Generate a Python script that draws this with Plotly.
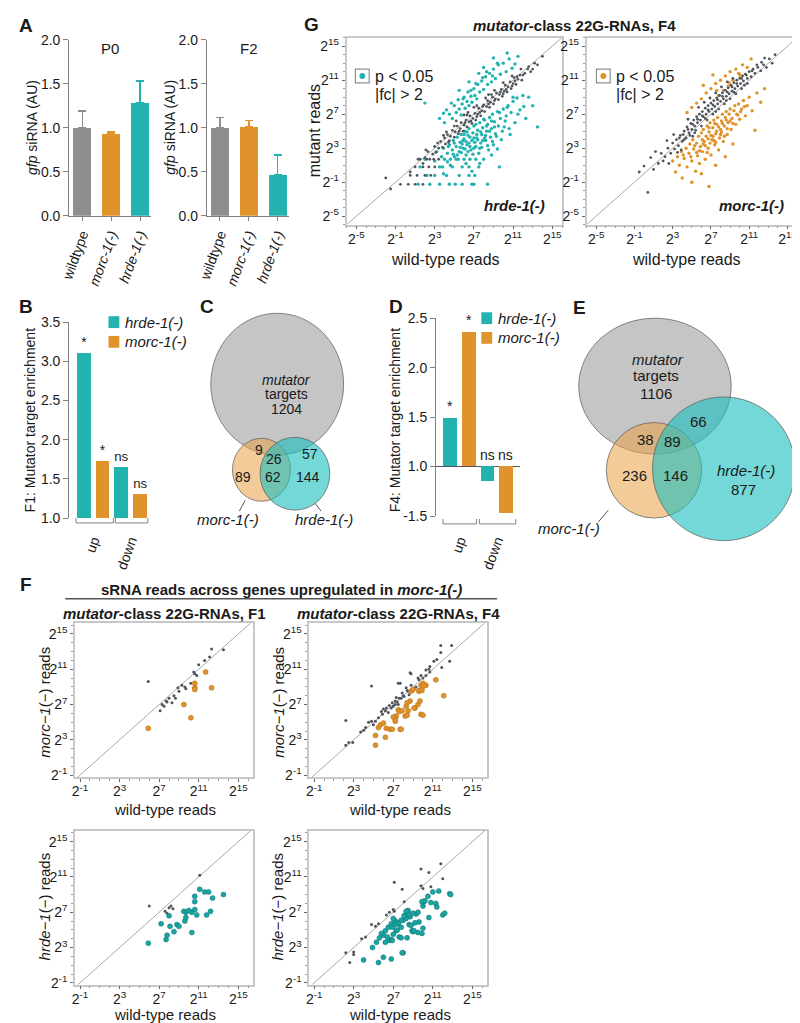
import plotly.graph_objects as go

W, H = 800, 1023
FONT = "Liberation Sans, Arial, sans-serif"
TEAL = "#22b2b0"
ORANGE = "#e0922b"
GREYBAR = "#8e8e8e"
DOT = "#50555c"
TXT = "#1a1a1a"

# ---------------- Panel A: gfp siRNA ----------------
a_labels = ["wildtype", "<i>morc-1(-)</i>", "<i>hrde-1(-)</i>"]
a_p0_mean = [1.00, 0.935, 1.29]
a_p0_err = [0.19, 0.015, 0.24]
a_f2_mean = [1.00, 1.01, 0.47]
a_f2_err = [0.12, 0.07, 0.22]
a_titles = ["P0", "F2"]

# ---------------- Panel B: F1 mutator target enrichment ----------------
b_groups = ["up", "down"]
b_hrde = [3.11, 1.65]
b_morc = [1.72, 1.30]
b_hrde_sig = ["*", "ns"]
b_morc_sig = ["*", "ns"]

# ---------------- Panel D: F4 mutator target enrichment ----------------
d_groups = ["up", "down"]
d_hrde = [1.49, -1.15]
d_morc = [2.36, -1.47]
d_hrde_sig = ["*", "ns"]
d_morc_sig = ["*", "ns"]
d_ticks = [2.5, 2.0, 1.5, 1.0, -1.5]

# ---------------- Panels C / E: Venn counts ----------------
c_mutator_total = 1204
c_region_values = [9, 26, 57, 89, 62, 144]
e_mutator_total = 1106
e_region_values = [66, 38, 89, 236, 146, 877]

# ---------------- Panel G: log2 reads (wild-type, mutant) ----------------
g_hrde_ns = [(0.5,0.2),(1.0,0.8),(1.3,1.7),(1.8,1.2),(2.0,1.9),(2.3,2.6),(2.5,1.7),(2.8,2.3),(3.0,3.2),(3.1,2.5),
    (3.4,3.0),(3.6,3.8),(3.8,3.1),(4.0,4.2),(4.1,3.5),(4.3,4.6),(4.5,3.9),(4.6,4.4),(4.8,5.1),(5.0,4.3),(5.1,4.9),
    (5.3,5.6),(5.4,4.7),(5.6,5.3),(5.7,6.0),(5.9,5.0),(6.0,5.7),(6.2,6.3),(6.3,5.5),(6.5,6.1),(6.6,6.8),(6.8,5.9),
    (6.9,6.5),(7.1,7.1),(7.2,6.3),(7.4,7.0),(7.5,7.7),(7.7,6.8),(7.8,7.4),(8.0,8.1),(8.1,7.3),(8.3,7.9),(8.4,8.6),
    (8.6,7.8),(8.7,8.4),(8.9,9.0),(9.0,8.2),(9.2,8.8),(9.3,9.5),(9.5,8.7),(9.6,9.3),(9.8,9.9),(9.9,9.1),(10.1,9.7),
    (10.2,10.4),(10.4,9.6),(10.5,10.2),(10.7,10.8),(10.8,10.0),(11.0,10.6),(11.1,11.3),(11.3,10.5),(11.5,11.1),
    (11.7,11.6),(11.9,11.0),(12.2,11.8),(12.5,12.3),(12.8,12.0),(13.2,13.0),(13.5,12.8),(14.0,13.8),
    (-0.5,-1.25),(0.3,-1.25),(1.0,-1.25),(1.8,-1.25),(0.5,-0.2),(1.2,-0.2),(2.0,-0.2),(2.6,-0.2),(1.8,0.8),
    (2.4,0.8),(3.0,0.8),(1.5,1.7),(2.2,1.7),(2.9,1.7),(3.4,1.7),(-1.5,-1.8),(-2.0,-0.5),(4.2,4.9),(5.2,6.2),
    (6.4,7.2),(7.3,8.0),(8.2,8.9),(9.1,9.8),(10.0,10.7),(10.9,11.5),(11.8,12.3),(6.0,6.9),(7.0,7.8),(8.5,9.3),
    (2.1,2.8),(3.3,3.6),(3.9,4.5),(4.4,3.7),(5.5,5.0),(6.1,6.0),(6.7,6.2),(7.3,6.7),(7.9,7.9),(8.5,8.2),(9.1,8.6),
    (9.7,9.6),(10.3,9.9),(10.9,10.3),(11.4,11.4),(12.0,11.6),(12.6,12.6),(13.0,12.3),(5.0,5.6),(6.3,6.9),
    (7.6,7.2),(8.8,9.3),(10.0,9.4),(11.2,10.9)]
g_hrde_sig = [(3.5,6.5),(4.0,6.0),(4.2,7.5),(4.5,7.0),(4.8,6.5),(5.0,8.0),(5.2,7.2),(5.4,8.7),(5.5,7.6),(5.7,6.9),
    (5.8,8.2),(6.0,9.0),(6.1,7.7),(6.3,8.5),(6.4,9.6),(6.5,8.0),(6.7,9.1),(6.8,8.4),(7.0,10.0),(7.1,9.2),(7.3,8.8),
    (7.4,10.5),(7.6,9.6),(7.8,10.9),(8.0,9.9),(8.2,11.4),(8.4,10.5),(8.6,11.8),(8.8,10.8),(9.0,12.3),(9.2,11.2),
    (9.5,12.8),(9.7,11.7),(10.0,13.0),(10.3,12.0),(10.6,13.5),(10.9,12.4),(11.2,12.9),(11.5,13.8),(10.4,14.2),
    (9.0,13.6),(8.0,12.5),(7.5,11.8),(6.5,10.8),(5.5,9.8),(2.0,8.3),
    (3.0,1.5),(3.2,2.6),(3.5,0.8),(3.7,2.0),(3.9,3.0),(4.0,1.7),(4.2,-0.2),(4.3,2.4),(4.5,3.4),(4.6,1.0),(4.8,2.8),
    (4.9,3.9),(5.0,2.0),(5.1,-1.25),(5.2,3.2),(5.3,4.3),(5.4,1.7),(5.5,2.6),(5.6,3.7),(5.7,4.6),(5.8,0.8),(5.9,3.0),
    (6.0,4.1),(6.1,5.0),(6.2,2.2),(6.3,3.4),(6.4,4.5),(6.5,5.3),(6.6,1.7),(6.7,2.8),(6.8,3.9),(6.9,4.8),(7.0,5.6),
    (7.1,-0.2),(7.2,3.2),(7.3,4.2),(7.4,5.1),(7.5,2.4),(7.6,6.0),(7.7,3.6),(7.8,4.6),(7.9,5.4),(8.0,1.7),(8.1,6.3),
    (8.2,3.9),(8.3,5.0),(8.4,5.8),(8.5,2.8),(8.6,6.6),(8.7,4.3),(8.8,5.3),(8.9,7.0),(9.0,3.4),(9.1,6.1),(9.2,4.7),
    (9.4,7.3),(9.5,5.6),(9.6,0.8),(9.7,6.5),(9.8,4.0),(10.0,7.6),(10.1,5.5),(10.3,6.8),(10.5,8.0),(10.7,4.6),
    (10.8,7.2),(11.0,8.5),(11.2,6.0),(11.4,8.9),(11.7,7.5),(12.0,9.2),(12.3,6.5),(12.6,9.0),(13.0,8.0),(13.5,5.5),
    (6.0,1.7),(6.5,0.8),(7.0,-1.25),(4.5,-1.25),(3.5,-1.25),(2.5,-1.25),(3.0,-0.2),(5.5,-0.2),(6.5,-0.2),(3.8,0.8),
    (4.8,0.8),(7.5,0.8),(4.6,1.7),(5.2,1.7),(7.2,1.7),(6.8,-1.25),(5.8,-1.25),(8.4,-1.25),(2.0,1.7),(1.5,0.8),
    (2.2,-0.2),(1.3,-1.25),(6.2,3.8),(6.6,4.3),(7.0,3.0),(7.4,4.0),(5.8,3.5),(6.4,2.6),(7.8,3.1),(8.2,4.5),
    (5.0,3.6),(4.4,3.2),(6.0,4.6),(7.2,5.8),(8.0,6.4),(8.8,6.2),(9.6,7.2),(10.4,7.8),(11.0,9.0),
    (5.3,2.2),(5.6,3.1),(5.9,3.9),(6.1,2.9),(6.3,4.9),(6.6,3.2),(6.9,2.3),(7.1,3.7),(7.3,4.6),(7.6,3.0),(7.9,3.9),
    (8.1,4.2),(8.4,3.3),(8.6,5.0),(8.9,3.8),(9.3,4.4),(9.9,5.0),(10.2,6.2),(5.7,2.5),(6.2,1.2),(6.8,0.3),(7.6,1.2),
    (8.8,2.2),(9.4,2.9),(4.9,2.3),(4.3,1.4),(3.9,0.0),(6.5,3.6),(7.0,4.2),(7.7,4.9),(8.3,5.6),(9.1,5.5),(10.6,5.3),
    (11.5,7.0),(12.1,7.9),(6.7,9.8),(7.2,10.6),(7.9,11.3),(8.3,12.0),(8.9,11.5),(9.4,13.0),(5.9,8.8),(4.7,8.3),
    (3.9,7.1)]
g_morc_ns = [(0.4,-2.2),(0.7,1.9),(1.5,1.2),(1.8,2.4),(2.2,2.0),(2.5,3.0),(2.8,2.4),(3.0,3.6),(3.2,2.9),(3.4,4.0),
    (3.6,3.3),(3.8,4.5),(4.0,3.8),(4.2,5.0),(4.4,4.2),(4.5,5.5),(4.7,4.8),(4.9,5.9),(5.0,5.2),(5.2,6.3),(5.3,5.6),
    (5.5,6.7),(5.6,6.0),(5.8,7.0),(5.9,6.3),(6.1,7.3),(6.2,6.7),(6.4,7.7),(6.5,7.0),(6.7,8.0),(6.8,7.3),(7.0,8.3),
    (7.1,7.6),(7.3,8.6),(7.4,7.9),(7.6,8.9),(7.7,8.2),(7.9,9.2),(8.0,8.5),(8.2,9.5),(8.3,8.8),(8.5,9.8),(8.6,9.1),
    (8.8,10.1),(8.9,9.4),(9.1,10.4),(9.2,9.7),(9.4,10.7),(9.5,10.0),(9.7,11.0),(9.8,10.3),(10.0,11.2),(10.1,10.6),
    (10.3,11.5),(10.4,10.9),(10.6,11.7),(10.8,11.2),(11.0,12.0),(11.2,11.4),(11.4,12.3),(11.6,11.8),(11.9,12.5),
    (12.2,12.1),(12.5,12.8),(12.8,12.5),(13.1,13.5),(13.4,13.0),(13.7,14.0),(12.6,13.6),(6.0,5.6),(6.6,6.3),
    (7.2,7.0),(7.8,7.6),(8.4,8.2),(9.0,8.8),(9.6,9.4),(10.2,10.0),(10.8,10.6),(5.4,5.1),(4.8,4.5),(4.2,4.0),
    (3.5,2.5),(2.0,1.5),(1.0,0.5),(2.6,1.2),(3.9,2.8),(5.1,4.4),(7.5,9.5),(8.1,10.2),(8.7,10.8),(9.3,11.2),
    (6.9,8.9),(6.3,8.4),(5.7,7.8),(4.6,6.4),(3.1,4.6),(2.4,3.9),(1.2,2.6),(0.0,0.9),(-0.5,0.2),
    (4.1,4.6),(4.6,5.2),(5.1,5.8),(5.6,6.4),(6.1,6.8),(6.7,7.5),(7.2,8.1),(7.7,8.7),(8.2,9.1),(8.7,9.6),(9.2,10.2),
    (9.7,10.6),(10.2,11.2),(10.7,11.6),(11.3,12.1),(11.8,12.8),(12.3,13.1),(6.4,6.5),(7.5,7.3),(8.6,8.6),
    (9.4,9.6),(10.5,10.4),(5.3,4.8),(3.7,4.2)]
g_morc_sig = [(3.0,1.5),(3.3,0.2),(3.5,2.0),(3.7,1.0),(3.9,2.6),(4.0,-0.5),(4.2,1.8),(4.4,3.0),(4.5,0.8),(4.7,2.4),
    (4.8,3.5),(5.0,1.5),(5.1,4.0),(5.2,2.9),(5.4,0.3),(5.5,3.6),(5.6,2.1),(5.7,4.4),(5.8,1.2),(5.9,3.2),(6.0,4.8),
    (6.1,2.6),(6.2,5.2),(6.3,3.8),(6.4,1.7),(6.5,4.4),(6.6,5.6),(6.7,3.0),(6.8,4.9),(6.9,6.0),(7.0,2.2),(7.1,4.0),
    (7.2,5.4),(7.3,6.3),(7.4,3.4),(7.5,4.7),(7.6,5.8),(7.7,6.6),(7.8,2.8),(7.9,4.2),(8.0,5.2),(8.1,6.2),(8.2,7.0),
    (8.3,3.8),(8.4,5.6),(8.5,6.6),(8.6,7.3),(8.7,4.6),(8.8,6.0),(8.9,7.0),(9.0,7.6),(9.1,5.2),(9.2,6.5),(9.4,7.4),
    (9.5,8.0),(9.6,5.8),(9.7,7.0),(9.9,8.2),(10.0,6.4),(10.2,7.6),(10.4,8.6),(10.6,6.8),(10.8,8.0),(11.0,9.0),
    (11.3,7.4),(11.6,5.1),(11.8,9.5),(12.2,8.4),(12.6,10.0),(6.0,0.0),(5.0,-1.0),(7.5,1.0),(8.5,2.0),(9.3,3.5),
    (6.8,-1.5),(4.5,7.2),(5.0,7.8),(5.5,8.3),(6.0,8.8),(6.5,9.5),(7.0,10.0),(7.5,10.6),(7.8,9.2),(8.0,11.0),
    (8.3,9.8),(8.5,11.5),(8.8,10.3),(9.0,12.0),(9.3,11.0),(9.6,12.3),(10.0,11.6),(10.3,12.8),(10.8,12.5),
    (11.2,13.5),(6.2,10.4),(7.2,11.6),(6.4,3.3),(7.0,4.5),(7.6,5.0),(8.2,5.9),(6.7,4.1),(7.3,3.9),(8.0,4.6),
    (5.3,3.3),(5.8,2.7),(6.2,3.5),(6.6,2.5),(6.9,3.6),(7.2,4.4),(7.5,3.7),(7.8,5.5),(8.1,4.9),(8.4,4.4),(8.7,5.3),
    (9.0,6.2),(9.3,5.9),(9.8,6.9),(10.1,7.3),(10.5,7.9),(6.1,4.0),(6.8,5.4),(7.4,5.9),(8.6,6.3),(5.5,2.5),
    (4.9,2.0),(4.1,2.2),(8.9,10.7),(9.9,11.8),(7.6,9.8)]

# ---------------- Panel F: log2 reads (wild-type, mutant) ----------------
f1_morc_ns = [(5.9,9.6),(7.1,6.3),(7.5,6.8),(7.7,7.4),(8.0,7.7),(8.3,7.2),(8.65,7.7),(8.9,8.9),(9.0,8.5),(9.6,9.0),
    (9.7,8.8),(10.2,9.4),(10.5,10.7),(10.6,10.5),(10.8,10.3),(11.0,11.5),(11.6,12.0),(12.1,12.4),(12.3,13.3),
    (13.5,13.2),(7.3,7.0),(7.8,7.3),(8.5,8.0),(9.3,9.2)]
f1_morc_sig = [(5.9,4.3),(9.5,7.0),(10.2,5.5),(10.6,9.4),(10.6,8.9),(10.6,8.7),(11.7,10.7),(12.3,8.9)]
f4_morc_ns = [(2.2,5.2),(2.2,2.4),(2.5,2.7),(2.9,2.7),(3.7,3.9),(4.2,4.4),(4.5,5.0),(4.8,5.1),(5.2,5.1),(4.8,9.1),
    (5.5,5.5),(5.9,5.9),(6.2,6.3),(6.5,6.1),(6.8,6.6),(7.5,9.4),(7.2,7.4),(7.5,7.0),(7.8,7.7),(8.1,7.9),(8.5,8.5),
    (8.8,10.5),(9.5,10.0),(9.8,10.3),(10.3,10.9),(11.8,13.7),(12.9,13.7),(11.8,12.9),(11.1,11.9),(11.4,12.1),
    (12.7,11.9),(11.9,11.2),(10.7,11.3),(10.6,11.0),(10.7,10.7),(10.3,10.3),(10.0,10.0),(9.6,9.8),(8.7,10.6),
    (7.7,9.4),(8.8,9.2),(9.1,8.8),(8.4,8.6),(7.9,8.3),(8.6,8.1),(7.6,7.7),(7.2,7.0),(6.9,7.2),(7.0,6.8),(6.6,6.9),
    (7.4,7.3),(8.0,8.0),(6.3,6.6),(5.8,6.2),(5.0,4.7),(4.0,4.1),(7.3,7.8),(8.3,8.9),(9.3,9.0),(6.0,6.5)]
f4_morc_sig = [(5.2,2.4),(5.2,3.5),(5.5,4.4),(5.7,4.7),(6.0,4.9),(6.2,3.3),(6.3,4.3),(6.7,4.2),(6.9,4.2),(7.2,5.1),
    (7.3,5.7),(7.5,6.4),(7.6,6.2),(7.9,6.3),(7.7,4.2),(8.2,5.7),(8.3,6.8),(8.5,6.3),(8.7,7.4),(8.8,8.5),(9.0,8.7),
    (9.2,6.6),(9.5,7.0),(9.6,8.5),(9.8,9.2),(10.0,9.4),(10.3,9.2),(9.8,5.9),(11.3,9.8),(12.1,8.0),(10.0,5.8),
    (10.1,9.1),(9.6,8.6),(9.7,7.4),(9.1,6.6),(8.4,7.2),(8.4,5.8),(7.8,4.2),(7.2,5.3),(7.0,5.6),(9.9,8.6)]
f1_hrde_ns = [(6.0,7.7),(7.6,7.1),(7.8,6.9),(8.0,7.5),(8.2,7.7),(8.4,7.4),(11.1,11.2)]
f1_hrde_sig = [(5.9,3.5),(7.2,5.7),(7.7,3.9),(7.8,4.4),(8.1,5.4),(8.0,6.6),(8.5,4.8),(8.8,5.6),(9.0,5.4),(9.6,6.0),
    (9.7,6.4),(9.7,7.0),(10.3,7.0),(10.3,4.7),(10.6,7.3),(10.6,8.2),(10.6,8.8),(10.8,6.7),(11.1,9.6),(11.6,9.3),
    (12.0,9.3),(11.8,6.7),(12.2,7.1),(12.4,8.6),(13.5,9.0),(9.5,7.1),(10.0,7.2)]
f4_hrde_ns = [(2.2,2.4),(2.6,1.3),(3.0,2.5),(3.0,2.2),(3.8,4.0),(4.2,4.2),(4.8,5.6),(5.2,5.4),(5.5,5.7),(6.3,6.7),
    (6.6,7.0),(7.0,7.3),(7.1,10.4),(7.9,9.6),(8.1,8.2),(7.1,7.1),(9.8,11.9),(10.6,11.5),(9.8,10.0),(11.8,12.5),
    (12.0,10.8),(10.0,9.7),(10.8,9.9)]
f4_hrde_sig = [(4.0,1.6),(5.5,1.3),(6.0,1.9),(6.8,1.7),(8.0,2.4),(4.9,3.0),(5.3,3.6),(5.6,4.1),(6.0,4.4),(6.2,3.6),
    (6.6,3.8),(6.8,3.9),(6.2,4.9),(6.5,5.3),(6.8,5.7),(7.2,6.0),(7.3,4.9),(7.5,5.7),(7.6,4.2),(7.8,5.3),(8.0,6.1),
    (8.2,6.6),(8.3,6.3),(8.5,7.2),(8.6,5.6),(8.7,6.5),(8.9,4.9),(9.0,4.8),(9.3,6.8),(9.6,5.9),(10.0,5.2),(10.1,8.2),
    (10.5,8.8),(6.9,5.3),(7.2,5.6),(7.5,5.8),(7.8,6.1),(8.1,6.6),(8.3,7.1),(8.6,6.7),(9.0,6.9),(9.5,7.0),(9.2,5.8),
    (8.8,5.5),(9.5,4.7),(9.9,4.6),(9.1,4.9),(7.8,4.1),(8.4,4.1),(6.9,3.8),(7.9,2.4),(10.0,7.7),(9.9,8.2),(10.2,8.3),
    (10.8,8.1),(11.3,8.0),(11.4,7.6),(10.6,6.4),(11.0,9.3),(11.6,9.4),(12.7,9.1),(12.8,9.0),(12.0,6.7),(12.2,6.9),
    (5.8,4.6),(6.4,4.2),(7.0,4.5),(7.4,5.0),(7.0,6.3)]

g_ticks = [-5, -1, 3, 7, 11, 15]
f_ticks = [-1, 3, 7, 11, 15]
g_range_left = [-6, 16]
g_range_right = [-6, 15.7]
g_range_y = [-6, 16]
f_range_x = [-1.5, 16.5]
f_range_y = [-1.2, 16.2]


def dom_x(x0, x1):
    return [x0 / W, x1 / W]


def dom_y(y0, y1):
    return [1 - y1 / H, 1 - y0 / H]


def px(x):
    return x / W


def py(y):
    return 1 - y / H


fig = go.Figure()
annotations = []
shapes = []


def ann(text, x, y, size=13, xanchor="center", yanchor="middle", angle=0, color=TXT):
    annotations.append(dict(text=text, x=px(x), y=py(y), xref="paper", yref="paper", showarrow=False,
                            xanchor=xanchor, yanchor=yanchor, textangle=angle,
                            font=dict(size=size, color=color, family=FONT)))


def base_axis(**kw):
    d = dict(showgrid=False, zeroline=False, showline=True, linecolor="#808080", linewidth=1,
             ticks="outside", ticklen=5, tickcolor="#808080",
             tickfont=dict(size=14, color=TXT, family=FONT))
    d.update(kw)
    return d


def sup_text(vals):
    return ["2<sup>%d</sup>" % v for v in vals]


def scatter_axis(dom, rng, ticks, anchor, is_x):
    d = dict(domain=dom, range=rng, anchor=anchor, showgrid=False, zeroline=False,
             showline=True, linecolor="#c8c8c8", linewidth=1.5, mirror=True,
             ticks="outside", ticklen=3, tickcolor="#666", tickvals=ticks, ticktext=sup_text(ticks),
             tickfont=dict(size=14, color=TXT, family=FONT),
             minor=dict(ticks="outside", ticklen=2, tickcolor="#999", tickmode="linear", tick0=0, dtick=1))
    if is_x:
        d["ticklabelstandoff"] = -2
    return d


layout = {}

# ---------- Panel A ----------
a_colors = [GREYBAR, ORANGE, TEAL]
for k, (means, errs, xd) in enumerate([(a_p0_mean, a_p0_err, (52, 135)), (a_f2_mean, a_f2_err, (192, 275))]):
    n = "" if k == 0 else "2"
    for i in range(3):
        fig.add_trace(go.Bar(x=[i], y=[means[i]], width=0.62, marker=dict(color=a_colors[i], line=dict(width=0)),
                             error_y=dict(type="data", symmetric=False, array=[errs[i]], arrayminus=[0],
                                          color=a_colors[i], thickness=1.3, width=4),
                             xaxis="x" + n, yaxis="y" + n, showlegend=False))
    layout["xaxis" + n] = base_axis(domain=dom_x(*xd), anchor="y" + n, range=[-0.45, 2.37], tickvals=[0, 1, 2],
                                     ticktext=a_labels, tickangle=-70, ticklen=4)
    layout["yaxis" + n] = base_axis(domain=dom_y(24, 203), anchor="x" + n, range=[0, 2.0],
                                     tickvals=[0, 0.5, 1, 1.5, 2], tickformat=".1f")
ann(a_titles[0], 94, 33, size=15)
ann(a_titles[1], 235, 33, size=15)
ann("<i>gfp</i> siRNA (AU)", 14, 113, size=14, angle=-90)
ann("<i>gfp</i> siRNA (AU)", 155, 113, size=14, angle=-90)

# ---------- Panel B ----------
b_x_h = [0, 2]
b_x_m = [1, 3]
fig.add_trace(go.Bar(x=b_x_h, y=b_hrde, width=0.74, marker=dict(color=TEAL, line=dict(width=0)),
                     text=b_hrde_sig, textposition="outside", textfont=dict(size=14, color=TXT, family=FONT),
                     cliponaxis=False, xaxis="x3", yaxis="y3", showlegend=False))
fig.add_trace(go.Bar(x=b_x_m, y=b_morc, width=0.74, marker=dict(color=ORANGE, line=dict(width=0)),
                     text=b_morc_sig, textposition="outside", textfont=dict(size=14, color=TXT, family=FONT),
                     cliponaxis=False, xaxis="x3", yaxis="y3", showlegend=False))
layout["xaxis3"] = dict(domain=dom_x(52, 135), anchor="y3", range=[-0.79, 3.58], showline=False, showgrid=False,
                        zeroline=False, tickvals=[0.5, 2.5], ticktext=b_groups, tickangle=-70, ticks="outside",
                        ticklen=8, tickcolor="rgba(0,0,0,0)", tickfont=dict(size=14, color=TXT, family=FONT))
layout["yaxis3"] = base_axis(domain=dom_y(311, 510), anchor="x3", range=[1, 3.5], dtick=0.5, tickformat=".1f")
ann("F1: Mutator target enrichment", 12, 410, size=14, angle=-90)


# ---------- Panel D ----------
def d_tr(v):
    return v - 1 if v >= 1 else v + 1


fig.add_trace(go.Bar(x=[0, 2], y=[d_tr(v) for v in d_hrde], width=0.74, marker=dict(color=TEAL, line=dict(width=0)),
                     xaxis="x4", yaxis="y4", showlegend=False))
fig.add_trace(go.Bar(x=[1, 3], y=[d_tr(v) for v in d_morc], width=0.74, marker=dict(color=ORANGE, line=dict(width=0)),
                     xaxis="x4", yaxis="y4", showlegend=False))
layout["xaxis4"] = dict(domain=dom_x(425, 510), anchor="y4", range=[-0.77, 3.74], showline=False, showgrid=False,
                        zeroline=False, tickvals=[0.5, 2.5], ticktext=d_groups, tickangle=-70, ticks="outside",
                        ticklen=10, tickcolor="rgba(0,0,0,0)", tickfont=dict(size=14, color=TXT, family=FONT))
layout["yaxis4"] = base_axis(domain=dom_y(307, 508), anchor="x4", range=[-0.5, 1.5],
                             tickvals=[d_tr(v) for v in d_ticks], ticktext=["%.1f" % v for v in d_ticks],
                             zeroline=True, zerolinecolor="#555", zerolinewidth=1)
for xs, vals, sig in [([0, 2], d_hrde, d_hrde_sig), ([1, 3], d_morc, d_morc_sig)]:
    for xv, v, s in zip(xs, vals, sig):
        yv = d_tr(v) if v > 0 else 0
        annotations.append(dict(text=s, x=xv, y=yv, xref="x4", yref="y4", showarrow=False, yanchor="bottom",
                                yshift=2, font=dict(size=14, color=TXT, family=FONT)))
ann("F4: Mutator target enrichment", 383, 410, size=14, angle=-90)

# legends B and D
for (x0, y0, lab_y) in [(92, 305, 311), (471, 301, 307)]:
    shapes.append(dict(type="rect", xref="paper", yref="paper", x0=px(x0), x1=px(x0 + 11), y0=py(y0), y1=py(y0 + 12),
                       fillcolor=TEAL, line=dict(width=0)))
    shapes.append(dict(type="rect", xref="paper", yref="paper", x0=px(x0), x1=px(x0 + 11), y0=py(y0 + 20),
                       y1=py(y0 + 32), fillcolor=ORANGE, line=dict(width=0)))
    ann("<i>hrde-1(-)</i>", x0 + 15, lab_y, size=15, xanchor="left")
    ann("<i>morc-1(-)</i>", x0 + 15, lab_y + 20, size=15, xanchor="left")

for (x0, x1, yt) in [(59, 97, 510), (99, 132, 510), (432, 466, 511), (469, 506, 511)]:
    shapes.append(dict(type="path", xref="paper", yref="paper",
                       path="M %f,%f L %f,%f L %f,%f L %f,%f" % (px(x0), py(yt), px(x0), py(yt + 5), px(x1), py(yt + 5),
                                                             px(x1), py(yt)),
                       line=dict(color="#808080", width=1)))

# ---------- Panels C and E: Venn ----------
VG = "rgba(150,150,150,0.55)"
VO = "rgba(232,160,70,0.55)"
VT = "rgba(25,190,190,0.6)"
VL = "rgba(90,90,90,0.7)"
for (x0, x1, y0, y1, col) in [(196, 331, 302, 446, VG), (218, 277, 429, 493, VO), (246, 317, 428, 502, VT),
                              (570, 725, 307, 445, VG), (598, 695, 413, 510, VO), (645, 790, 387, 533, VT)]:
    shapes.append(dict(type="circle", xref="paper", yref="paper", x0=px(x0), x1=px(x1), y0=py(y1), y1=py(y0),
                       fillcolor=col, line=dict(color=VL, width=1)))
ann("<i>mutator</i>", 273, 370, size=14)
ann("targets", 273, 384, size=14)
ann(str(c_mutator_total), 273, 399, size=14)
for v, (x, y) in zip(c_region_values, [(245, 441), (260, 450), (297, 445), (229, 468), (259, 468), (295, 468)]):
    ann(str(v), x, y, size=14)
ann("<i>morc-1(-)</i>", 213, 511, size=15)
ann("<i>hrde-1(-)</i>", 311, 512, size=15)
for (a, b, c, d) in [(231, 492, 225, 503), (302, 495, 308, 503), (600, 502, 590, 514)]:
    shapes.append(dict(type="line", xref="paper", yref="paper", x0=px(a), y0=py(b), x1=px(c), y1=py(d),
                       line=dict(color="#555", width=1)))

ann("<i>mutator</i>", 651, 349, size=15)
ann("targets", 649, 365, size=15)
ann(str(e_mutator_total), 649, 383, size=15)
for v, (x, y) in zip(e_region_values, [(692, 412), (638, 430), (665, 432), (627, 467), (668, 467), (737, 481)]):
    ann(str(v), x, y, size=15)
ann("<i>hrde-1(-)</i>", 740, 462, size=15)
ann("<i>morc-1(-)</i>", 560, 521, size=15)


# ---------- Panel G ----------
def add_pts(pts, xa, ya, color, size, line_col=None):
    fig.add_trace(go.Scatter(x=[p[0] for p in pts], y=[p[1] for p in pts], mode="markers",
                             marker=dict(color=color, size=size,
                                         line=dict(width=0.5 if line_col else 0, color=line_col or color)),
                             xaxis=xa, yaxis=ya, showlegend=False, cliponaxis=True))


def add_diag(rx, xa, ya):
    fig.add_trace(go.Scatter(x=rx, y=rx, mode="lines", line=dict(color="#a8a8a8", width=1),
                             xaxis=xa, yaxis=ya, showlegend=False, hoverinfo="skip"))


for n, sig, ns, col, xd, xr in [(5, g_hrde_sig, g_hrde_ns, TEAL, (334, 553), g_range_left),
                                (6, g_morc_sig, g_morc_ns, ORANGE, (578, 789), g_range_right)]:
    add_diag(g_range_y, "x%d" % n, "y%d" % n)
    add_pts(sig, "x%d" % n, "y%d" % n, col, 3.4)
    add_pts(ns, "x%d" % n, "y%d" % n, DOT, 2.8)
    layout["xaxis%d" % n] = scatter_axis(dom_x(*xd), xr, g_ticks, "y%d" % n, True)
    layout["yaxis%d" % n] = scatter_axis(dom_y(22, 212), g_range_y, g_ticks, "x%d" % n, False)

ann("<b><i>mutator</i>-class 22G-RNAs, F4</b>", 566, 10, size=15)
ann("mutant reads", 301, 117, size=16, angle=-90)
ann("wild-type reads", 435, 247, size=16)
ann("wild-type reads", 680, 247, size=16)
ann("<b><i>hrde-1(-)</i></b>", 538, 193, size=15, xanchor="right")
ann("<b><i>morc-1(-)</i></b>", 781, 193, size=15, xanchor="right")
for (bx, col) in [(343, TEAL), (588, ORANGE)]:
    shapes.append(dict(type="rect", xref="paper", yref="paper", x0=px(bx), x1=px(bx + 14), y0=py(68), y1=py(54),
                       line=dict(color="#909090", width=1.2), fillcolor="white"))
    shapes.append(dict(type="circle", xref="paper", yref="paper", x0=px(bx + 4), x1=px(bx + 10), y0=py(64), y1=py(58),
                       line=dict(width=0), fillcolor=col))
    ann("p < 0.05", bx + 18, 61, size=16, xanchor="left")
    ann("|fc| > 2", bx + 18, 80, size=16, xanchor="left")

# ---------- Panel F ----------
f_panels = [
    (7, f1_morc_sig, f1_morc_ns, ORANGE, "#b06d15", (58, 239), (617, 773)),
    (8, f4_morc_sig, f4_morc_ns, ORANGE, "#b06d15", (296, 477), (617, 773)),
    (9, f1_hrde_sig, f1_hrde_ns, "#1aa5a3", "#0d7371", (58, 239), (828, 984)),
    (10, f4_hrde_sig, f4_hrde_ns, "#1aa5a3", "#0d7371", (296, 477), (828, 984)),
]
for n, sig, ns, col, edge, xd, yd in f_panels:
    add_diag(f_range_x, "x%d" % n, "y%d" % n)
    add_pts(ns, "x%d" % n, "y%d" % n, DOT, 3)
    add_pts(sig, "x%d" % n, "y%d" % n, col, 5, edge)
    layout["xaxis%d" % n] = scatter_axis(dom_x(*xd), f_range_x, f_ticks, "y%d" % n, True)
    layout["yaxis%d" % n] = scatter_axis(dom_y(*yd), f_range_y, f_ticks, "x%d" % n, False)

ann("<b>sRNA reads across genes upregulated in <i>morc-1(-)</i></b>", 268, 583, size=15)
shapes.append(dict(type="line", xref="paper", yref="paper", x0=px(48), x1=px(487), y0=py(592), y1=py(592),
                   line=dict(color="#555", width=1.5)))
ann("<b><i>mutator</i>-class 22G-RNAs, F1</b>", 149, 607, size=15)
ann("<b><i>mutator</i>-class 22G-RNAs, F4</b>", 387, 607, size=15)
for xx in (27, 264):
    ann("<i>morc−1</i>(−) reads", xx, 697, size=15, angle=-90)
    ann("<i>hrde−1</i>(−) reads", xx, 905, size=15, angle=-90)
for xx in (149, 388):
    ann("wild-type reads", xx, 806, size=15)
    ann("wild-type reads", xx, 1014, size=15)

# ---------- Panel letters ----------
for lab, x, y in [("A", 8, 10), ("B", 8, 295), ("C", 192, 295), ("D", 384, 295), ("E", 571, 296),
                  ("F", 8, 578), ("G", 298, 9)]:
    ann("<b>%s</b>" % lab, x, y, size=19)

layout.update(dict(width=W, height=H, margin=dict(l=0, r=0, t=0, b=0), paper_bgcolor="white",
                   plot_bgcolor="white", showlegend=False, annotations=annotations, shapes=shapes,
                   font=dict(family=FONT, color=TXT), bargap=0))
fig.update_layout(**layout)
fig.write_html("out.html")
